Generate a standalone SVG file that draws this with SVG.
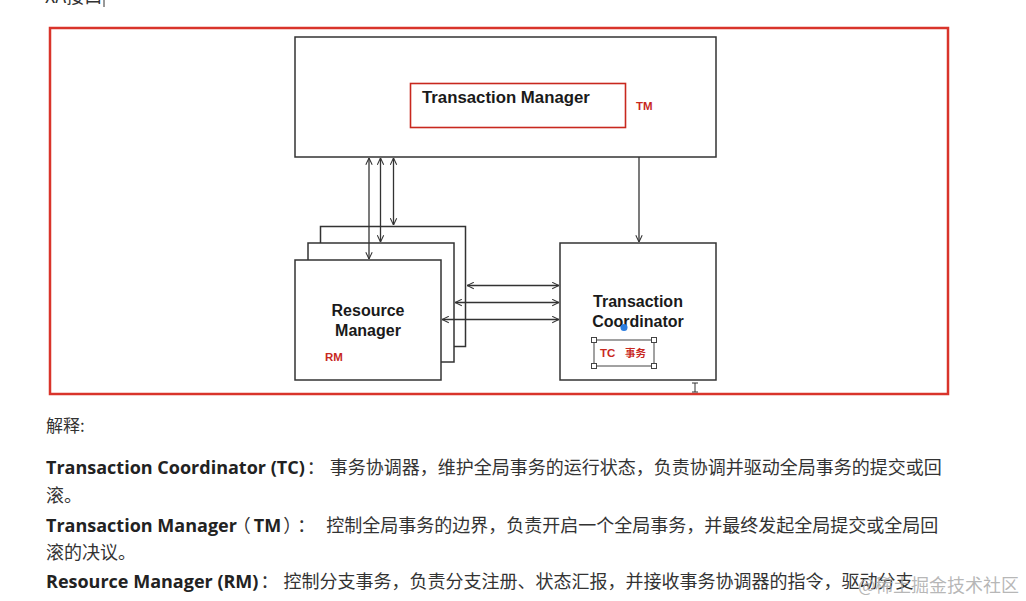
<svg xmlns="http://www.w3.org/2000/svg" width="1026" height="601" viewBox="0 0 1026 601">
<style>
.box{fill:#fff;stroke:#333;stroke-width:1.5}
.lbl{font-family:"Liberation Sans",Arial,sans-serif;font-weight:bold;font-size:16px;fill:#1a1a1a}
.red{font-family:"Liberation Sans",Arial,"Noto Sans CJK SC",sans-serif;font-weight:bold;font-size:11.5px;fill:#c8281e}
.conn{stroke:#333;stroke-width:1.3;fill:none}
.en{font-family:"Open Sans","Noto Sans",sans-serif;font-weight:bold;font-size:18px;fill:#222}
.zh{font-family:"Noto Sans CJK SC",sans-serif;font-size:18px;fill:#333;font-weight:normal}
</style>
<defs>
<marker id="ah" viewBox="0 0 10 10" refX="9.5" refY="5" markerWidth="8" markerHeight="8" markerUnits="userSpaceOnUse" orient="auto-start-reverse">
<path d="M1,1 L9.5,5 L1,9" fill="none" stroke="#333" stroke-width="1.3"/>
</marker>
</defs>
<rect width="1026" height="601" fill="#fff"/>
<g id="header">
<text x="45" y="3" class="zh">XA接口</text>
<line x1="104" y1="0" x2="104" y2="7" stroke="#333" stroke-width="1"/>
</g>
<rect id="frame" x="50" y="28" width="898" height="366" fill="none" stroke="#d9342b" stroke-width="2.5"/>
<g id="tm">
<rect class="box" x="295" y="37" width="421" height="120"/>
<rect x="410.5" y="83.5" width="215" height="44" fill="none" stroke="#c8281e" stroke-width="1.6"/>
<text x="422" y="103" class="lbl" style="font-size:16.8px">Transaction Manager</text>
<text x="636" y="110" class="red">TM</text>
</g>
<g id="rm">
<rect class="box" x="320.5" y="226.5" width="145" height="120"/>
<rect class="box" x="308" y="243" width="146" height="119"/>
<rect class="box" x="295" y="260" width="146" height="120"/>
<text x="368" y="316" class="lbl" text-anchor="middle">Resource</text>
<text x="368" y="336" class="lbl" text-anchor="middle">Manager</text>
<text x="325" y="361" class="red">RM</text>
</g>
<g id="tc">
<rect class="box" x="560" y="243" width="156" height="137"/>
<text x="638" y="307" class="lbl" text-anchor="middle">Transaction</text>
<text x="638" y="327" class="lbl" text-anchor="middle">Coordinator</text>
<rect x="594" y="340" width="60" height="26" fill="none" stroke="#444" stroke-width="1"/>
<g fill="#fff" stroke="#444" stroke-width="1">
<rect x="591.5" y="337.5" width="5" height="5"/>
<rect x="651.5" y="337.5" width="5" height="5"/>
<rect x="591.5" y="363.5" width="5" height="5"/>
<rect x="651.5" y="363.5" width="5" height="5"/>
</g>
<text x="600" y="357" class="red">TC</text>
<text x="625" y="357" class="red" style="font-size:10.5px">事务</text>
<circle cx="624" cy="327.5" r="3.5" fill="#2b7de0"/>
</g>
<g id="connectors">
<line class="conn" x1="369" y1="158" x2="369" y2="259" marker-start="url(#ah)" marker-end="url(#ah)"/>
<line class="conn" x1="380.5" y1="158" x2="380.5" y2="242" marker-start="url(#ah)" marker-end="url(#ah)"/>
<line class="conn" x1="393.5" y1="158" x2="393.5" y2="225" marker-start="url(#ah)" marker-end="url(#ah)"/>
<line class="conn" x1="639" y1="157" x2="639" y2="242" marker-end="url(#ah)"/>
<line class="conn" x1="467" y1="285.5" x2="559" y2="285.5" marker-start="url(#ah)" marker-end="url(#ah)"/>
<line class="conn" x1="455" y1="302.5" x2="559" y2="302.5" marker-start="url(#ah)" marker-end="url(#ah)"/>
<line class="conn" x1="442" y1="319.5" x2="559" y2="319.5" marker-start="url(#ah)" marker-end="url(#ah)"/>
</g>
<g id="cursor" stroke="#333" stroke-width="1" fill="none">
<path d="M692,383 h6 M695,383 v9 M692,392 h6"/>
</g>
<g id="explanation">
<text x="46" y="432" class="zh" style="font-size:17px">解释:</text>
<text x="46" y="474" class="en">Transaction Coordinator (TC)<tspan class="zh" dx="2">：</tspan><tspan class="zh" dx="5">事务协调器，维护全局事务的运行状态，负责协调并驱动全局事务的提交或回</tspan></text>
<text x="46" y="502" class="zh">滚。</text>
<text x="46" y="532" class="en">Transaction Manager<tspan class="zh" dx="-4">（</tspan><tspan dx="3">TM</tspan><tspan class="zh" dx="2">）</tspan><tspan class="zh" dx="5">：</tspan><tspan class="zh" dx="11">控制全局事务的边界，负责开启一个全局事务，并最终发起全局提交或全局回</tspan></text>
<text x="46" y="559" class="zh">滚的决议。</text>
<text x="46" y="588" class="en">Resource Manager (RM)<tspan class="zh" dx="2">：</tspan><tspan class="zh" dx="5">控制分支事务，负责分支注册、状态汇报，并接收事务协调器的指令，驱动分支</tspan></text>
</g>
<g id="watermark">
<text x="858" y="592" font-family="Noto Sans CJK SC,sans-serif" font-size="18" fill="#aaa" fill-opacity="0.85">@稀土掘金技术社区</text>
</g>
</svg>
